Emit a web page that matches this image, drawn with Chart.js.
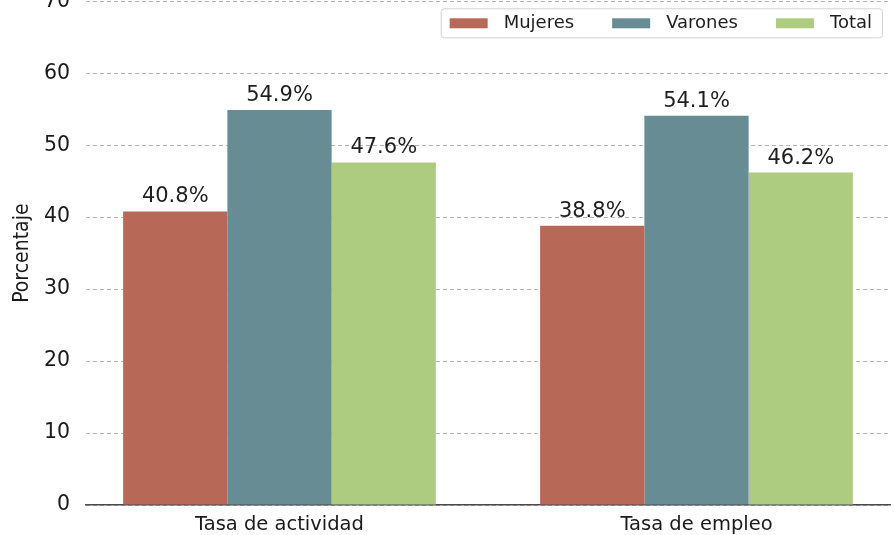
<!DOCTYPE html>
<html>
<head>
<meta charset="utf-8">
<script src="https://cdn.jsdelivr.net/npm/chart.js@4.4.1/dist/chart.umd.min.js"></script>
<style>
  html, body { margin: 0; padding: 0; background: #fff; }
  #wrap { position: relative; width: 894px; height: 535px; overflow: hidden; }
  #c { position: absolute; left: 0; top: -27px; }
</style>
</head>
<body>
<div id="wrap"><canvas id="c" width="894" height="562"></canvas></div>
<script>
const categories = ['Tasa de actividad', 'Tasa de empleo'];
const seriesNames = ['Mujeres', 'Varones', 'Total'];
const mujeres = [40.8, 38.8];
const varones = [54.9, 54.1];
const total = [47.6, 46.2];
const yTicks = [0, 10, 20, 30, 40, 50, 60, 70];
const colors = ['#b76857', '#688c94', '#aecc80'];
const seriesValues = [mujeres, varones, total];

const FONT = "'DejaVu Sans', sans-serif";
const COND = "'DejaVu Sans Condensed', 'Liberation Sans Narrow', 'DejaVu Sans', sans-serif";

const datasets = seriesNames.map((name, s) => ({
  label: name,
  data: seriesValues[s].map((v, i) => ({ x: i, y: v })),
  backgroundColor: colors[s],
  borderWidth: 0,
  categoryPercentage: 0.75,
  barPercentage: 1.0
}));

const valueLabels = {
  id: 'valueLabels',
  afterDatasetsDraw(chart) {
    const ctx = chart.ctx;
    ctx.save();
    ctx.font = '21px ' + FONT;
    ctx.fillStyle = '#1e1e1e';
    ctx.textAlign = 'center';
    ctx.textBaseline = 'alphabetic';
    chart.data.datasets.forEach((ds, di) => {
      const meta = chart.getDatasetMeta(di);
      meta.data.forEach((el, i) => {
        const v = ds.data[i].y;
        ctx.fillText(v.toFixed(1) + '%', el.x, el.y - 9);
      });
    });
    ctx.restore();
  }
};

const boxLegend = {
  id: 'boxLegend',
  afterDraw(chart) {
    const ctx = chart.ctx;
    const area = chart.chartArea;
    ctx.save();
    ctx.font = '18px ' + FONT;
    const sw = 38, sh = 10, gapText = 16, gapItem = 38, padL = 9, padR = 10, h = 29;
    const items = chart.data.datasets.map(ds => ({ text: ds.label, color: ds.backgroundColor, w: ctx.measureText(ds.label).width }));
    let total = padL + padR;
    items.forEach((it, k) => { total += sw + gapText + it.w + (k < items.length - 1 ? gapItem : 0); });
    const right = area.right - 8;
    const left = right - total;
    const top = area.top + 7;
    ctx.fillStyle = 'rgba(255,255,255,0.85)';
    ctx.strokeStyle = '#d2d2d2';
    ctx.lineWidth = 1;
    ctx.beginPath();
    ctx.roundRect(left + 0.5, top + 0.5, total, h, 3);
    ctx.fill();
    ctx.stroke();
    let x = left + padL;
    const cy = top + h / 2 + 0.5;
    items.forEach(it => {
      ctx.fillStyle = it.color;
      ctx.fillRect(x, cy - sh / 2, sw, sh);
      x += sw + gapText;
      ctx.fillStyle = '#1e1e1e';
      ctx.textAlign = 'left';
      ctx.textBaseline = 'middle';
      ctx.fillText(it.text, x, cy);
      x += it.w + gapItem;
    });
    ctx.restore();
  }
};

new Chart(document.getElementById('c'), {
  type: 'bar',
  data: { datasets },
  plugins: [valueLabels, boxLegend],
  options: {
    responsive: false,
    animation: false,
    devicePixelRatio: 1,
    layout: { padding: { top: 0, right: 4, bottom: 0, left: 0 } },
    plugins: {
      legend: { display: false },
      tooltip: { enabled: false }
    },
    scales: {
      x: {
        type: 'linear',
        offset: false,
        min: -0.464,
        max: 1.464,
        afterBuildTicks: axis => { axis.ticks = categories.map((_, i) => ({ value: i })); },
        afterFit: axis => { axis.height = 30; },
        grid: { display: false, drawTicks: false, offset: false },
        border: { display: true, color: '#4a4a4a', width: 1.5 },
        ticks: {
          autoSkip: false,
          maxRotation: 0,
          padding: 8,
          color: '#1a1a1a',
          font: { family: FONT, size: 19.5 },
          callback: v => categories[v]
        }
      },
      y: {
        min: yTicks[0],
        max: yTicks[yTicks.length - 1],
        afterBuildTicks: axis => { axis.ticks = yTicks.map(v => ({ value: v })); },
        afterFit: axis => { axis.width = 86; },
        grid: { color: '#b4b4b4', lineWidth: 1, drawTicks: false },
        border: { display: false, dash: [4, 3] },
        ticks: {
          padding: 16,
          color: '#1a1a1a',
          font: { family: FONT, size: 20.5 }
        },
        title: {
          display: true,
          text: 'Porcentaje',
          color: '#1a1a1a',
          padding: { top: 10, bottom: 0 },
          font: { family: COND, size: 21 }
        }
      }
    }
  }
});
</script>
</body>
</html>
